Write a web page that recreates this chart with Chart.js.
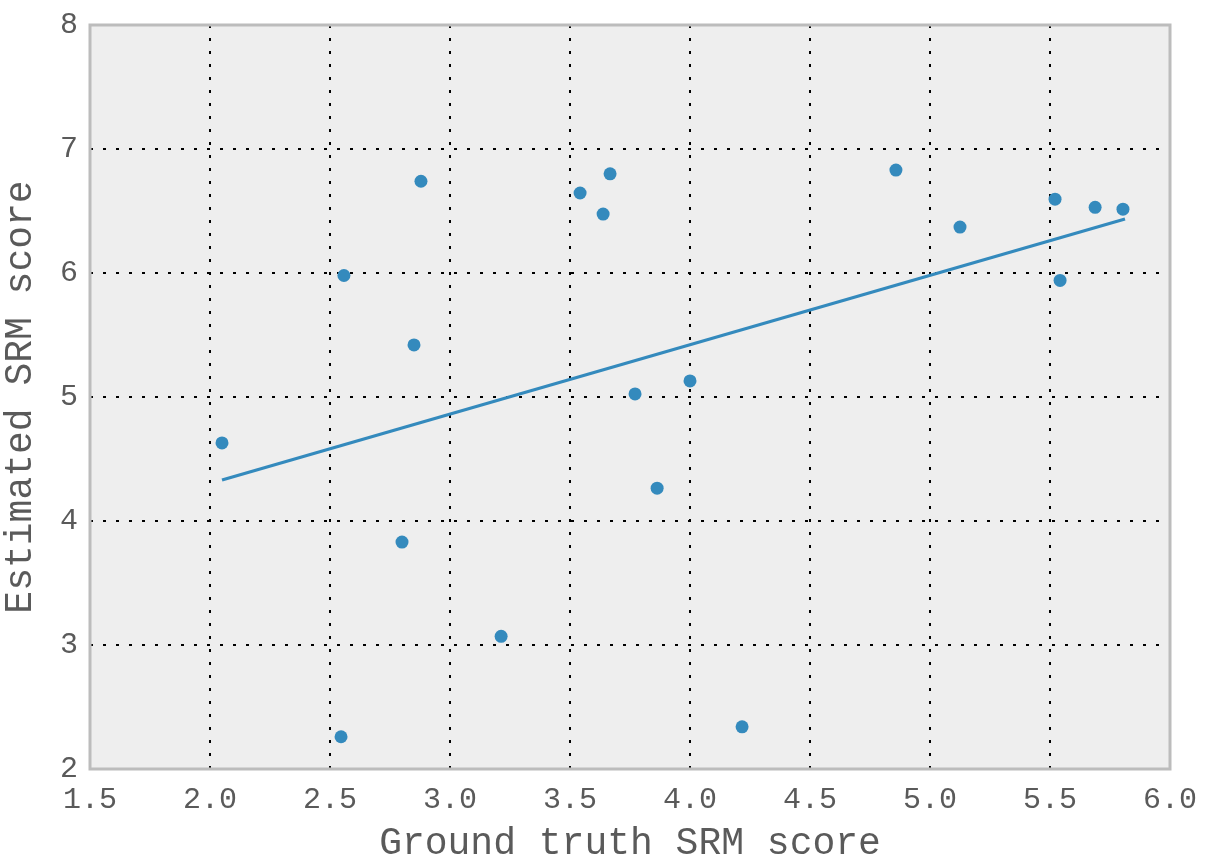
<!DOCTYPE html>
<html>
<head>
<meta charset="utf-8">
<script src="https://cdn.jsdelivr.net/npm/chart.js@4/dist/chart.umd.min.js"></script>
<style>
  html, body { margin: 0; padding: 0; background: #ffffff; }
  #wrap { width: 1210px; height: 857px; }
</style>
</head>
<body>
<div id="wrap"><canvas id="chart" width="1210" height="857"></canvas></div>
<script>
// values
const groundTruth = [2.05, 2.546, 2.558, 2.80, 2.85, 2.879, 3.213, 3.542, 3.638, 3.667,
                     3.771, 3.863, 4.00, 4.217, 4.858, 5.125, 5.521, 5.542, 5.688, 5.804];
const estimated = [4.63, 2.26, 5.98, 3.83, 5.42, 6.74, 3.07, 6.645, 6.475, 6.80,
                   5.025, 4.265, 5.13, 2.34, 6.83, 6.37, 6.595, 5.94, 6.53, 6.515];

const fitX = [2.05, 5.8125];
const fitY = [4.33, 6.435];

const xTicks = [1.5, 2.0, 2.5, 3.0, 3.5, 4.0, 4.5, 5.0, 5.5, 6.0];
const yTicks = [2, 3, 4, 5, 6, 7, 8];

const blue = "#348ABD";
const textColor = "#5a5a5a";
const monoFont = "'Liberation Mono', 'Courier New', monospace";

const axesFrame = {
    id: "axesFrame",
    beforeDraw(chart) {
        const { ctx, chartArea } = chart;
        ctx.save();
        ctx.fillStyle = "#eeeeee";
        ctx.fillRect(chartArea.left, chartArea.top,
            chartArea.right - chartArea.left, chartArea.bottom - chartArea.top);
        ctx.restore();
    },
    afterDatasetsDraw(chart) {
        const { ctx, chartArea } = chart;
        ctx.save();
        ctx.strokeStyle = "#bcbcbc";
        ctx.lineWidth = 3;
        ctx.strokeRect(chartArea.left, chartArea.top,
            chartArea.right - chartArea.left, chartArea.bottom - chartArea.top);
        ctx.restore();
    }
};

const ctx = document.getElementById("chart").getContext("2d");

new Chart(ctx, {
    type: "scatter",
    data: {
        datasets: [
            {
                label: "samples",
                data: groundTruth.map((x, i) => ({ x: x, y: estimated[i] })),
                backgroundColor: blue,
                borderColor: blue,
                borderWidth: 0,
                pointRadius: 6.5,
                pointHoverRadius: 6.5,
                order: 1
            },
            {
                label: "fit",
                type: "line",
                data: fitX.map((x, i) => ({ x: x, y: fitY[i] })),
                borderColor: blue,
                borderWidth: 3.2,
                pointRadius: 0,
                fill: false,
                order: 2
            }
        ]
    },
    options: {
        responsive: false,
        animation: false,
        events: [],
        layout: {
            padding: { left: 0, right: 40, top: 25, bottom: 0 }
        },
        plugins: {
            legend: { display: false },
            tooltip: { enabled: false }
        },
        scales: {
            x: {
                type: "linear",
                min: 1.5,
                max: 6.0,
                afterBuildTicks(scale) {
                    scale.ticks = xTicks.map(v => ({ value: v }));
                },
                afterFit(scale) {
                    scale.height = 88;
                    scale.paddingLeft = 0;
                    scale.paddingRight = 0;
                },
                ticks: {
                    color: textColor,
                    font: { family: monoFont, size: 30 },
                    padding: 13,
                    maxRotation: 0,
                    callback: v => Number(v).toFixed(1)
                },
                grid: {
                    color: "#000000",
                    lineWidth: 2,
                    drawTicks: false
                },
                border: { display: false, dash: [3, 10] },
                title: {
                    display: true,
                    text: "Ground truth SRM score",
                    color: textColor,
                    font: { family: monoFont, size: 38, lineHeight: "26px" },
                    padding: { top: 0, bottom: 0 }
                }
            },
            y: {
                type: "linear",
                min: 2,
                max: 8,
                afterBuildTicks(scale) {
                    scale.ticks = yTicks.map(v => ({ value: v }));
                },
                afterFit(scale) {
                    scale.width = 90;
                    scale.paddingTop = 0;
                    scale.paddingBottom = 0;
                },
                ticks: {
                    color: textColor,
                    font: { family: monoFont, size: 30 },
                    padding: 12,
                    callback: v => String(v)
                },
                grid: {
                    color: "#000000",
                    lineWidth: 2,
                    drawTicks: false
                },
                border: { display: false, dash: [3, 10] },
                title: {
                    display: true,
                    text: "Estimated SRM score",
                    color: textColor,
                    font: { family: monoFont, size: 38, lineHeight: "26px" },
                    padding: { top: 8, bottom: 0 }
                }
            }
        }
    },
    plugins: [axesFrame]
});
</script>
</body>
</html>
